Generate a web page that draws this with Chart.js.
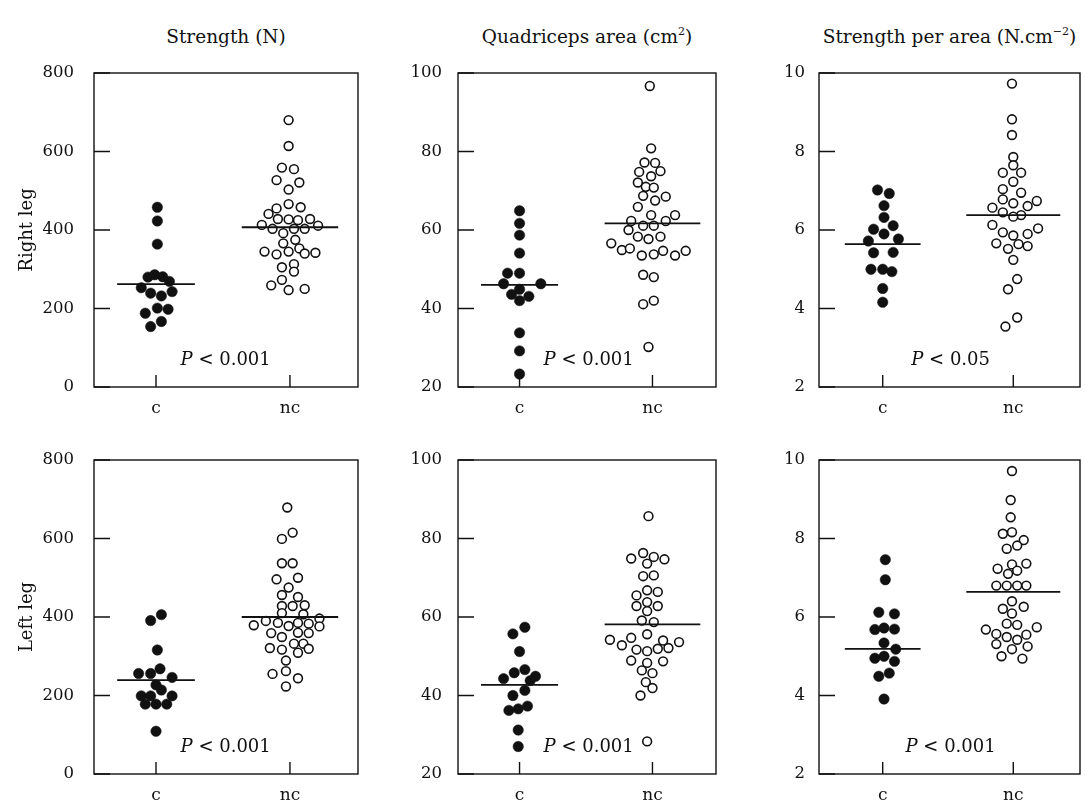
<!DOCTYPE html>
<html>
<head>
<meta charset="utf-8">
<script src="https://cdn.jsdelivr.net/npm/chart.js@4/dist/chart.umd.min.js"></script>
<style>
body { margin: 0; background: #fff; }
#wrap { position: relative; width: 1085px; height: 801px; overflow: hidden; font-family: "DejaVu Serif", serif; color: #111; }
canvas { position: absolute; }
.ttl { position: absolute; top: 26px; font-size: 18.5px; line-height: 22px; white-space: nowrap; transform: translateX(-50%); }
.ttl sup { font-size: 11px; vertical-align: 0; position: relative; top: -0.75em; }
.row { position: absolute; font-size: 18px; white-space: nowrap; transform: translate(-50%, -50%) rotate(-90deg); }
</style>
</head>
<body>
<div id="wrap"></div>
<script>
var categories = ['c', 'nc']
var colTitles = ['Strength (N)', 'Quadriceps area (cm<sup>2</sup>)', 'Strength per area (N.cm<sup>\u22122</sup>)']
var rowTitles = ['Right leg', 'Left leg']
var yMins = [0, 20, 2]
var yMaxs = [800, 100, 10]
var ySteps = [200, 20, 2]
var pTexts = ['< 0.001', '< 0.001', '< 0.05', '< 0.001', '< 0.001', '< 0.001']
var medC = [262, 46.0, 5.64, 239, 42.7, 5.19]
var medNC = [407, 61.7, 6.38, 400, 58.1, 6.64]

// [offset from category, value]
var rightStrengthC = [[0.01,458],[0.01,423],[0.01,364],[-0.06,280],[-0.01,286],[0.05,281],[0.10,269],[-0.11,253],[-0.04,239],[0.04,232],[0.12,243],[0.01,201],[-0.08,188],[0.09,198],[0.04,167],[-0.04,154]]
var rightStrengthNC = [[-0.01,680],[-0.01,614],[-0.06,559],[0.03,555],[-0.10,527],[0.07,521],[-0.01,503],[-0.01,466],[-0.10,455],[0.08,458],[-0.16,441],[-0.09,428],[-0.01,427],[0.06,425],[0.15,428],[-0.21,413],[-0.13,403],[0.03,403],[0.11,403],[0.21,411],[-0.05,392],[0.04,375],[-0.05,366],[0.07,353],[-0.19,345],[-0.01,345],[-0.10,338],[0.11,340],[0.19,342],[0.03,313],[-0.06,305],[0.03,294],[-0.14,259],[-0.06,273],[-0.01,247],[0.11,250]]
var rightAreaC = [[0,64.9],[0,61.7],[0,58.7],[0,54.1],[-0.09,49.0],[0,49.0],[-0.12,46.3],[0.16,46.3],[0,44.9],[-0.06,43.6],[0.07,43.1],[0,42.0],[0,33.8],[0,29.2],[0,23.3]]
var rightAreaNC = [[-0.02,96.7],[-0.01,80.8],[-0.06,77.2],[0.02,77.1],[-0.10,74.8],[-0.01,73.7],[0.06,75.0],[-0.11,72.1],[-0.05,71.0],[0.01,70.8],[-0.07,68.7],[0.02,67.5],[0.10,68.5],[-0.11,65.9],[-0.01,63.8],[0.17,63.8],[-0.16,62.3],[-0.07,61.1],[0.01,61.1],[0.10,62.3],[-0.18,60.0],[-0.11,58.3],[-0.03,57.7],[0.06,58.3],[-0.31,56.6],[-0.23,54.9],[-0.17,55.3],[-0.08,53.5],[0.01,53.8],[0.08,54.7],[0.17,53.5],[0.25,54.7],[-0.07,48.6],[0.01,48.0],[-0.07,41.1],[0.01,42.0],[-0.03,30.2]]
var rightRatioC = [[-0.04,7.02],[0.05,6.93],[0.01,6.62],[0.01,6.32],[-0.07,6.02],[0.08,6.11],[0.01,5.90],[-0.11,5.72],[0.12,5.77],[-0.07,5.42],[0.08,5.43],[-0.09,5.00],[0,5.00],[0.07,4.94],[0,4.51],[0,4.16]]
var rightRatioNC = [[-0.01,9.73],[-0.01,8.82],[-0.01,8.42],[0,7.86],[0,7.65],[-0.08,7.46],[0.06,7.46],[0,7.23],[-0.08,7.04],[0.06,6.95],[-0.08,6.78],[0,6.68],[0.11,6.61],[0.18,6.74],[-0.16,6.57],[-0.08,6.45],[0.06,6.38],[0,6.34],[-0.16,6.13],[-0.08,5.94],[0,5.86],[0.11,5.90],[0.19,6.04],[-0.13,5.66],[-0.04,5.52],[0.04,5.64],[0.11,5.59],[0,5.24],[0.03,4.75],[-0.04,4.49],[0.03,3.77],[-0.06,3.54]]
var leftStrengthC = [[0.04,406],[-0.04,391],[0.01,316],[-0.13,256],[-0.04,256],[0.03,268],[0.12,246],[0,227],[-0.11,199],[-0.04,199],[0.04,214],[0.12,199],[-0.08,178],[0,178],[0.08,178],[0,109]]
var leftStrengthNC = [[-0.02,679],[0.02,615],[-0.06,599],[-0.06,537],[0.02,537],[-0.10,496],[0.06,500],[-0.01,475],[-0.06,456],[0.06,451],[-0.06,428],[0.02,428],[0.11,430],[-0.06,410],[0.10,407],[-0.27,379],[-0.18,390],[-0.09,385],[-0.01,377],[0.06,385],[0.14,383],[0.22,396],[0.22,376],[-0.14,359],[-0.06,349],[0.06,360],[0.14,359],[0.03,332],[0.10,332],[-0.15,321],[-0.06,317],[0.06,309],[0.14,319],[-0.03,289],[-0.13,255],[-0.03,262],[0.06,244],[-0.03,223]]
var leftAreaC = [[0.04,57.4],[-0.05,55.7],[0,51.2],[0.04,46.6],[-0.04,45.8],[-0.12,44.3],[0.12,44.9],[0.08,43.8],[0.04,41.3],[-0.05,40.0],[0.06,37.3],[-0.01,36.6],[-0.08,36.2],[-0.01,31.2],[-0.01,27.0]]
var leftAreaNC = [[-0.03,85.7],[-0.07,76.3],[-0.16,74.9],[0.01,75.3],[0.09,74.7],[-0.04,73.6],[-0.07,70.4],[0.01,70.6],[-0.04,66.8],[0.04,66.4],[-0.12,65.5],[-0.04,63.8],[-0.12,62.8],[0.04,62.8],[-0.04,61.5],[-0.08,59.1],[0.01,58.7],[-0.04,55.6],[-0.16,54.7],[-0.32,54.2],[-0.23,52.8],[-0.12,51.7],[-0.04,51.3],[0.04,51.9],[0.08,54.0],[0.12,52.1],[0.20,53.6],[-0.16,48.9],[-0.04,48.3],[0.08,48.7],[-0.08,46.4],[0,45.7],[-0.05,43.4],[0,41.9],[-0.09,40.0],[-0.04,28.3]]
var leftRatioC = [[0.02,7.46],[0.02,6.95],[-0.03,6.12],[0.09,6.08],[-0.06,5.68],[0.01,5.72],[0.09,5.69],[0.01,5.34],[0.10,5.18],[-0.06,4.95],[0.01,5.00],[0.09,4.87],[-0.03,4.49],[0.05,4.57],[0.01,3.91]]
var leftRatioNC = [[-0.01,9.72],[-0.02,8.98],[-0.02,8.54],[-0.08,8.12],[-0.01,8.16],[0.08,7.96],[-0.05,7.74],[0.03,7.82],[-0.12,7.23],[-0.01,7.34],[0.10,7.36],[-0.04,7.10],[0.03,7.18],[-0.13,6.80],[-0.05,6.80],[0.03,6.80],[0.10,6.80],[-0.01,6.40],[-0.08,6.21],[0.08,6.26],[-0.01,6.09],[-0.05,5.83],[0.03,5.80],[-0.21,5.68],[-0.13,5.57],[-0.05,5.49],[0.10,5.55],[0.18,5.74],[0.03,5.42],[-0.13,5.31],[-0.01,5.18],[0.11,5.25],[-0.09,5.00],[0.07,4.94]]

var groupsC = [rightStrengthC, rightAreaC, rightRatioC, leftStrengthC, leftAreaC, leftRatioC]
var groupsNC = [rightStrengthNC, rightAreaNC, rightRatioNC, leftStrengthNC, leftAreaNC, leftRatioNC]

// layout of the six boxes
var panelLeft = [94, 458, 819]
var panelRight = [358, 716, 1080]
var rowTop = [73, 460]
var rowBottom = [387, 774]
var xMins = [-0.463, -0.463, -0.488]
var xMaxs = [1.508, 1.478, 1.511]
var yLabelGap = [12, 8, 6]
var padL = 60, padT = 10, padR = 12, padB = 45
var ink = '#111'
var wrap = document.getElementById('wrap')

function toPoints(group, cat) {
    return group.map(function (p) { return {x: cat + p[0], y: p[1]} })
}

var boxPlugin = {
    id: 'box',
    afterDraw: function (chart) {
        var ctx = chart.ctx
        var a = chart.chartArea
        var xs = chart.scales.x, ys = chart.scales.y
        ctx.save()
        ctx.strokeStyle = ink
        ctx.lineWidth = 1.4
        ctx.strokeRect(a.left, a.top, a.right - a.left, a.bottom - a.top)
        // inward tick marks
        ctx.beginPath()
        ys.ticks.forEach(function (t) {
            var py = ys.getPixelForValue(t.value)
            ctx.moveTo(a.left, py)
            ctx.lineTo(a.left + 16, py)
        })
        xs.ticks.forEach(function (t) {
            var px = xs.getPixelForValue(t.value)
            ctx.moveTo(px, a.bottom)
            ctx.lineTo(px, a.bottom - 12)
        })
        ctx.stroke()
        // P value
        var cx = xs.getPixelForValue(0.52)
        var cy = a.bottom - 27
        ctx.fillStyle = ink
        ctx.textBaseline = 'middle'
        ctx.font = 'italic 18px "DejaVu Serif"'
        var w1 = ctx.measureText('P').width
        ctx.font = '18px "DejaVu Serif"'
        var rest = ' ' + chart.options.plugins.box.text
        var w2 = ctx.measureText(rest).width
        var x0 = cx - (w1 + w2) / 2
        ctx.font = 'italic 18px "DejaVu Serif"'
        ctx.fillText('P', x0, cy)
        ctx.font = '18px "DejaVu Serif"'
        ctx.fillText(rest, x0 + w1, cy)
        ctx.restore()
    }
}

function makePanel(i) {
    var col = i % 3
    var row = Math.floor(i / 3)
    var L = panelLeft[col], R = panelRight[col], T = rowTop[row], B = rowBottom[row]
    var cv = document.createElement('canvas')
    cv.width = R - L + padL + padR
    cv.height = B - T + padT + padB
    cv.style.left = (L - padL) + 'px'
    cv.style.top = (T - padT) + 'px'
    wrap.appendChild(cv)

    new Chart(cv.getContext('2d'), {
        type: 'scatter',
        data: {
            datasets: [
                {type: 'line', data: [{x: -0.29, y: medC[i]}, {x: 0.29, y: medC[i]}], borderColor: ink, borderWidth: 1.8, pointRadius: 0},
                {type: 'line', data: [{x: 0.64, y: medNC[i]}, {x: 1.36, y: medNC[i]}], borderColor: ink, borderWidth: 1.8, pointRadius: 0},
                {data: toPoints(groupsC[i], 0), pointRadius: 5.2, backgroundColor: ink, borderColor: ink, borderWidth: 0.5},
                {data: toPoints(groupsNC[i], 1), pointRadius: 4.4, backgroundColor: '#fff', borderColor: ink, borderWidth: 1.6}
            ]
        },
        options: {
            responsive: false,
            animation: false,
            devicePixelRatio: 1,
            layout: {padding: {left: 0, top: padT, right: padR, bottom: 0}},
            plugins: {legend: {display: false}, tooltip: {enabled: false}, box: {text: pTexts[i]}},
            scales: {
                x: {
                    type: 'linear', min: xMins[col], max: xMaxs[col],
                    afterBuildTicks: function (s) { s.ticks = [{value: 0}, {value: 1}] },
                    afterFit: function (s) { s.height = padB; s.paddingLeft = 0; s.paddingRight = 0 },
                    grid: {display: false},
                    border: {display: false},
                    ticks: {padding: 3, color: ink, font: {family: 'DejaVu Serif', size: 17},
                        callback: function (v) { return categories[v] }}
                },
                y: {
                    min: yMins[col], max: yMaxs[col],
                    afterFit: function (s) { s.width = padL; s.paddingTop = 0; s.paddingBottom = 0 },
                    grid: {display: false},
                    border: {display: false},
                    ticks: {stepSize: ySteps[col], padding: yLabelGap[col], color: ink, font: {family: 'DejaVu Serif', size: 16.5}}
                }
            }
        },
        plugins: [boxPlugin]
    })
}

for (let i = 0; i < 6; i++) makePanel(i)

for (let c = 0; c < 3; c++) {
    let d = document.createElement('div')
    d.className = 'ttl'
    d.innerHTML = colTitles[c]
    d.style.left = ((panelLeft[c] + panelRight[c]) / 2) + 'px'
    wrap.appendChild(d)
}
for (let r = 0; r < 2; r++) {
    let d = document.createElement('div')
    d.className = 'row'
    d.textContent = rowTitles[r]
    d.style.left = '25px'
    d.style.top = ((rowTop[r] + rowBottom[r]) / 2) + 'px'
    wrap.appendChild(d)
}
</script>
</body>
</html>
